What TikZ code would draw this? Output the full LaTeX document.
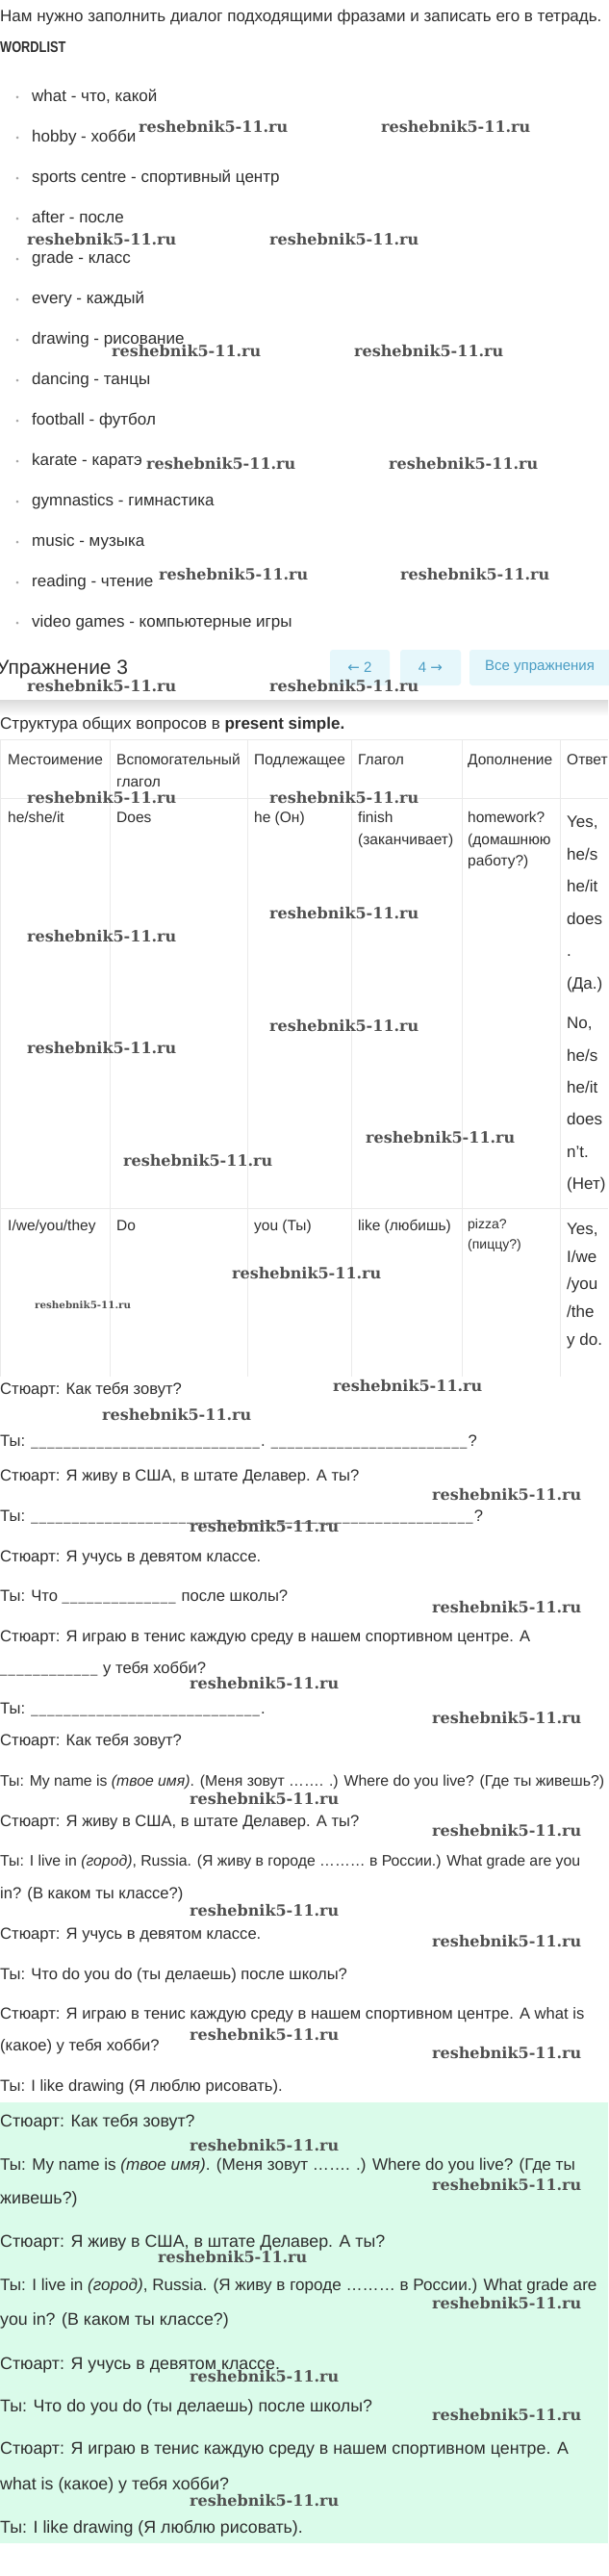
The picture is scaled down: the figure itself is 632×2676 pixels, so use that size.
\documentclass[tikz,border=0pt]{standalone}
\usepackage{fontspec}
\setmainfont{Liberation Sans}
\newfontfamily\wmfont{DejaVu Serif}
\newfontfamily\arrowfont{DejaVu Sans}
\definecolor{ink}{HTML}{2E2E2E}
\definecolor{rule}{HTML}{EAEAEA}
\definecolor{btnfill}{HTML}{E6F7FB}
\definecolor{btntext}{HTML}{4A9DC4}
\definecolor{mint}{HTML}{DAFBEA}
\definecolor{wmgray}{HTML}{505050}
\newcommand\fillgap[1]{{\fontsize{13}{13}\selectfont\foreach\n in {1,...,#1}{\_\kern1.3pt}}}
\tikzset{
  txt/.style={anchor=base west, inner sep=0pt, text=ink, font=\fontsize{16.6}{20}\selectfont},
  longtxt/.style={txt, font=\fontsize{15.8}{19}\selectfont},
  answertxt/.style={txt, font=\fontsize{17.8}{22}\selectfont},
  longanswer/.style={txt, font=\fontsize{17.1}{21}\selectfont},
  cell/.style={txt, font=\fontsize{15.5}{18}\selectfont},
  reply/.style={txt, font=\fontsize{17}{20}\selectfont},
  wm/.style={anchor=base west, inner sep=0pt, text=wmgray, font=\wmfont\bfseries\fontsize{16}{16}\selectfont},
  btn/.style={fill=btnfill, rounded corners=3pt},
  btnlabel/.style={inner sep=0pt, text=btntext, font=\fontsize{15}{18}\selectfont}
}
\begin{document}
\begin{tikzpicture}[x=1pt,y=-1pt]
  \useasboundingbox (0,0) rectangle (632,2676);
  \fill[white] (0,0) rectangle (632,2676);
  \fill[mint] (0,2184) rectangle (632,2642);

  \node[txt, font=\fontsize{17}{20}\selectfont] (intro) at (0,22.5) {Нам нужно заполнить диалог подходящими фразами и записать его в тетрадь.};
  \node[txt, font=\bfseries\fontsize{16}{16}\selectfont] (wordlist) at (0,55) {\scalebox{.8}[1]{WORDLIST}};
  \foreach \w [count=\i] in {{what - что, какой}, {hobby - хобби}, {sports centre - спортивный центр},
      {after - после}, {grade - класс}, {every - каждый}, {drawing - рисование}, {dancing - танцы},
      {football - футбол}, {karate - каратэ}, {gymnastics - гимнастика}, {music - музыка},
      {reading - чтение}, {video games - компьютерные игры}} {
    \fill[black!35] (18,{101+42*(\i-1)}) circle[radius=1.5pt];
    \node[txt, font=\fontsize{17}{20}\selectfont] (item\i) at (33,{105.5+42*(\i-1)}) {\w};
  }

  % header
  \shade[top color=black!14, bottom color=white] (0,727) rectangle (632,744);
  \node[txt, font=\fontsize{21}{24}\selectfont] (ex3) at (-4,700) {Упражнение 3};
  \fill[btn] (343,675) rectangle (405,712);
  \fill[btn] (416,675) rectangle (479,712);
  \fill[btn] (488,675) rectangle (640,712);
  \node[btnlabel] (prev) at (374,693) {{\arrowfont ←} 2};
  \node[btnlabel] (next) at (447.5,693) {4 {\arrowfont →}};
  \node[btnlabel, anchor=west] (all) at (504,693) {Все упражнения};

  \node[txt, font=\fontsize{17}{20}\selectfont] (struct) at (0,757.5) {Структура общих вопросов в \textbf{present simple.}};

  % table
  \draw[rule] (0,768) -- (632,768);
  \draw[rule] (0,829) -- (632,829);
  \draw[rule] (0,1255) -- (632,1255);
  \foreach \x in {0.5,114,257,365,480,582}
    \draw[rule] (\x,768) -- (\x,1430);

  \node[cell] (h1) at (8,794) {Местоимение};
  \node[cell] (h2) at (121,794) {Вспомогательный};
  \node[cell] (h2b) at (121,817) {глагол};
  \node[cell] (h3) at (264,794) {Подлежащее};
  \node[cell] (h4) at (372,794) {Глагол};
  \node[cell] (h5) at (486,794) {Дополнение};
  \node[cell] (h6) at (589,794) {Ответ};

  \node[cell] (a1) at (8,854) {he/she/it};
  \node[cell] (a2) at (121,854) {Does};
  \node[cell] (a3) at (264,854) {he (Он)};
  \node[cell] (a4) at (372,854) {finish};
  \node[cell] (a4b) at (372,877) {(заканчивает)};
  \node[cell] (a5) at (486,854) {homework?};
  \node[cell] (a5b) at (486,877) {(домашнюю};
  \node[cell] (a5c) at (486,899) {работу?)};
  \node[reply] (r1) at (589,859.5) {Yes,};
  \node[reply] (r2) at (589,893.5) {he/s};
  \node[reply] (r3) at (589,926.5) {he/it};
  \node[reply] (r4) at (589,960.5) {does};
  \node[reply] (r5) at (589,993.5) {.};
  \node[reply] (r6) at (589,1027.5) {(Да.)};
  \node[reply] (r7) at (589,1068.5) {No,};
  \node[reply] (r8) at (589,1102.5) {he/s};
  \node[reply] (r9) at (589,1135.5) {he/it};
  \node[reply] (r10) at (589,1168.5) {does};
  \node[reply] (r11) at (589,1202.5) {n't.};
  \node[reply] (r12) at (589,1235.5) {(Нет)};

  \node[cell] (b1) at (8,1278) {I/we/you/they};
  \node[cell] (b2) at (121,1278) {Do};
  \node[cell] (b3) at (264,1278) {you (Ты)};
  \node[cell] (b4) at (372,1278) {like (любишь)};
  \node[cell, font=\fontsize{14}{16}\selectfont] (b5) at (486,1276.5) {pizza?};
  \node[cell, font=\fontsize{14}{16}\selectfont] (b5b) at (486,1297.5) {(пиццу?)};
  \node[reply] (s1) at (589,1282.5) {Yes,};
  \node[reply] (s2) at (589,1311.5) {I/we};
  \node[reply] (s3) at (589,1339.5) {/you};
  \node[reply] (s4) at (589,1368.5) {/the};
  \node[reply] (s5) at (589,1397.5) {y do.};

  % dialog
  \node[txt] (d1) at (0,1448.5) {Стюарт: Как тебя зовут?};
  \node[txt] (d2) at (0,1502.5) {Ты: \fillgap{28}. \fillgap{24}?};
  \node[txt] (d3) at (0,1538.5) {Стюарт: Я живу в США, в штате Делавер. А ты?};
  \node[txt] (d4) at (0,1580.5) {Ты: \fillgap{54}?};
  \node[txt] (d5) at (0,1622.5) {Стюарт: Я учусь в девятом классе.};
  \node[txt] (d6) at (0,1663.5) {Ты: Что \fillgap{14} после школы?};
  \node[txt] (d7) at (0,1705.5) {Стюарт: Я играю в тенис каждую среду в нашем спортивном центре. А};
  \node[txt] (d7b) at (0,1738.5) {\fillgap{12} у тебя хобби?};
  \node[txt] (d8) at (0,1780.5) {Ты: \fillgap{28}.};

  \node[txt] (e1) at (0,1813.5) {Стюарт: Как тебя зовут?};
  \node[longtxt] (e2) at (0,1855.5) {Ты: My name is \textit{(твое имя)}. (Меня зовут ……. .) Where do you live? (Где ты живешь?)};
  \node[txt] (e3) at (0,1897.5) {Стюарт: Я живу в США, в штате Делавер. А ты?};
  \node[longtxt] (e4) at (0,1938.5) {Ты: I live in \textit{(город)}, Russia. (Я живу в городе ……… в России.) What grade are you};
  \node[txt] (e4b) at (0,1972.5) {in? (В каком ты классе?)};
  \node[txt] (e5) at (0,2014.5) {Стюарт: Я учусь в девятом классе.};
  \node[txt] (e6) at (0,2056.5) {Ты: Что do you do (ты делаешь) после школы?};
  \node[txt] (e7) at (0,2097.5) {Стюарт: Я играю в тенис каждую среду в нашем спортивном центре. A what is};
  \node[txt] (e7b) at (0,2130.5) {(какое) у тебя хобби?};
  \node[txt] (e8) at (0,2172.5) {Ты: I like drawing (Я люблю рисовать).};

  \node[answertxt] (g1) at (0,2209) {Стюарт: Как тебя зовут?};
  \node[longanswer] (g2) at (0,2254) {Ты: My name is \textit{(твое имя)}. (Меня зовут ……. .) Where do you live? (Где ты};
  \node[answertxt] (g2b) at (0,2289) {живешь?)};
  \node[answertxt] (g3) at (0,2334) {Стюарт: Я живу в США, в штате Делавер. А ты?};
  \node[longanswer] (g4) at (0,2379) {Ты: I live in \textit{(город)}, Russia. (Я живу в городе ……… в России.) What grade are};
  \node[answertxt] (g4b) at (0,2415) {you in? (В каком ты классе?)};
  \node[answertxt] (g5) at (0,2461) {Стюарт: Я учусь в девятом классе.};
  \node[answertxt] (g6) at (0,2505) {Ты: Что do you do (ты делаешь) после школы?};
  \node[answertxt] (g7) at (0,2549) {Стюарт: Я играю в тенис каждую среду в нашем спортивном центре. А};
  \node[answertxt] (g7b) at (0,2586) {what is (какое) у тебя хобби?};
  \node[answertxt] (g8) at (0,2631) {Ты: I like drawing (Я люблю рисовать).};

  % watermarks
  \foreach \x/\y [count=\k] in {144/133, 396/133, 28/249, 280/249, 116/365, 368/365, 152/482, 404/482,
      165/597, 416/597, 28/713, 280/713, 28/829, 280/829, 280/949, 28/973, 280/1066, 28/1089,
      380/1182, 128/1206, 241/1323, 346/1440, 106/1470, 449/1553, 197/1586, 449/1670, 197/1749,
      449/1785, 197/1869, 449/1902, 197/1985, 449/2017, 197/2114, 449/2133, 197/2229, 449/2270,
      164/2345, 449/2393, 197/2469, 449/2509, 197/2598}
    \node[wm] (wm\k) at (\x,\y+5) {reshebnik5-11.ru};
  \node[wm, font=\wmfont\bfseries\fontsize{10.3}{11}\selectfont] (wmsmall) at (36,1359.5) {reshebnik5-11.ru};
\end{tikzpicture}
\end{document}
